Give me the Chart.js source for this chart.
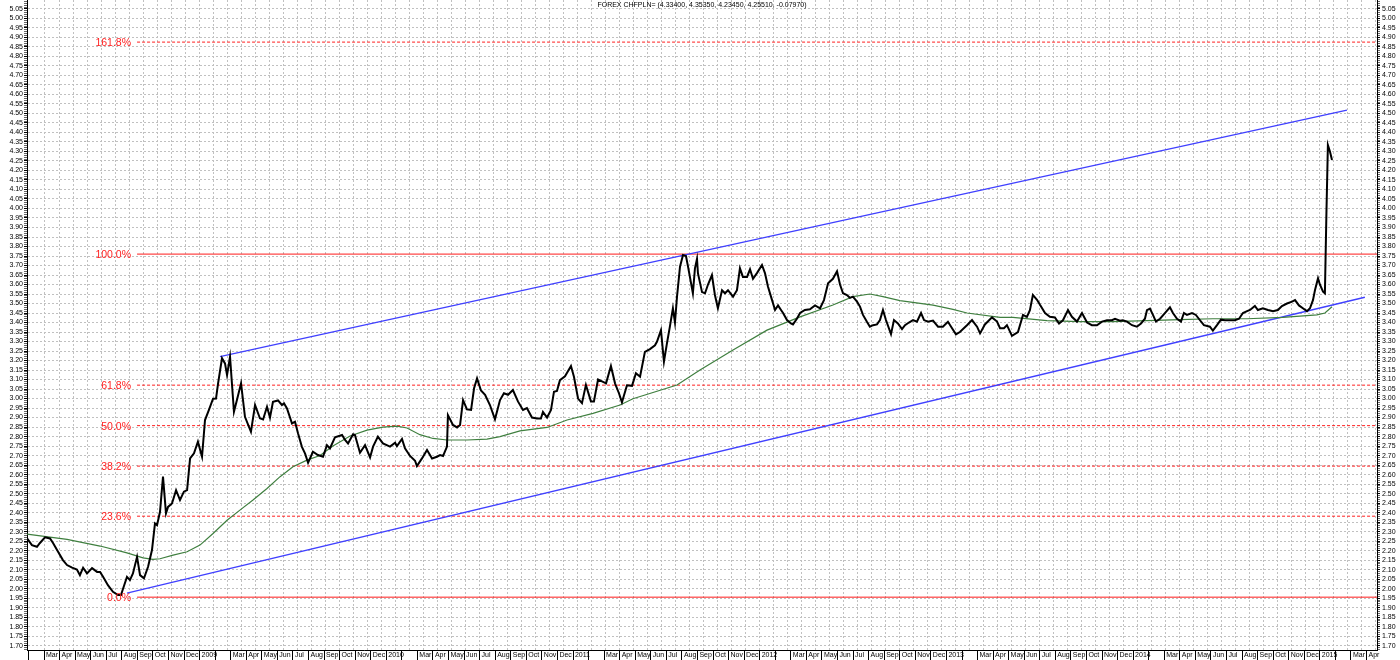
<!DOCTYPE html>
<html>
<head>
<meta charset="utf-8">
<title>FOREX CHFPLN=</title>
<script src="https://cdn.jsdelivr.net/npm/chart.js@4/dist/chart.umd.min.js"></script>
<style>
  html, body { margin: 0; padding: 0; background: #fff; }
  #wrap { width: 1400px; height: 660px; position: relative; }
</style>
</head>
<body>
<div id="wrap"><canvas id="fxChart"></canvas></div>
<script>
// Title of the chart: last bar (open, high, low, close, change)
const chartTitle = 'FOREX CHFPLN= (4.33400, 4.35350, 4.23450, 4.25510, -0.07970)';

// Weekly closes, dates as fractional years
const closeDates = [
  2008.076, 2008.102, 2008.129, 2008.145, 2008.172, 2008.199, 2008.215, 2008.242, 2008.268, 2008.290,
  2008.317, 2008.343, 2008.359, 2008.376, 2008.397, 2008.424, 2008.451, 2008.467, 2008.483, 2008.509,
  2008.536, 2008.563, 2008.579, 2008.590, 2008.611, 2008.627, 2008.643, 2008.665, 2008.681, 2008.702,
  2008.724, 2008.745, 2008.761, 2008.772, 2008.788, 2008.804, 2008.820, 2008.831, 2008.852, 2008.874,
  2008.895, 2008.916, 2008.933, 2008.949, 2008.970, 2008.991, 2009.013, 2009.029, 2009.050, 2009.072,
  2009.088, 2009.099, 2009.120, 2009.136, 2009.147, 2009.163, 2009.184, 2009.200, 2009.222, 2009.243,
  2009.275, 2009.297, 2009.323, 2009.340, 2009.361, 2009.377, 2009.393, 2009.420, 2009.441, 2009.452,
  2009.468, 2009.495, 2009.511, 2009.527, 2009.548, 2009.565, 2009.581, 2009.607, 2009.634, 2009.661,
  2009.682, 2009.698, 2009.725, 2009.763, 2009.779, 2009.795, 2009.822, 2009.832, 2009.859, 2009.886,
  2009.913, 2009.929, 2009.955, 2009.982, 2010.020, 2010.047, 2010.057, 2010.084, 2010.100, 2010.127,
  2010.154, 2010.164, 2010.191, 2010.218, 2010.245, 2010.271, 2010.288, 2010.304, 2010.325, 2010.330,
  2010.357, 2010.379, 2010.395, 2010.411, 2010.432, 2010.454, 2010.470, 2010.486, 2010.507, 2010.529,
  2010.555, 2010.582, 2010.609, 2010.630, 2010.652, 2010.678, 2010.705, 2010.732, 2010.753, 2010.780,
  2010.807, 2010.828, 2010.839, 2010.861, 2010.882, 2010.898, 2010.914, 2010.930, 2010.957, 2010.989,
  2011.005, 2011.027, 2011.048, 2011.069, 2011.096, 2011.112, 2011.134, 2011.155, 2011.177, 2011.203,
  2011.225, 2011.246, 2011.262, 2011.289, 2011.316, 2011.337, 2011.359, 2011.385, 2011.412, 2011.439,
  2011.450, 2011.471, 2011.487, 2011.503, 2011.519, 2011.535, 2011.546, 2011.557, 2011.573, 2011.589,
  2011.605, 2011.616, 2011.642, 2011.653, 2011.664, 2011.669, 2011.691, 2011.707, 2011.723, 2011.744,
  2011.760, 2011.776, 2011.798, 2011.814, 2011.830, 2011.857, 2011.878, 2011.894, 2011.910, 2011.932,
  2011.948, 2011.964, 2011.985, 2012.012, 2012.028, 2012.044, 2012.066, 2012.082, 2012.098, 2012.114,
  2012.125, 2012.146, 2012.167, 2012.178, 2012.199, 2012.216, 2012.242, 2012.269, 2012.296, 2012.323,
  2012.344, 2012.366, 2012.392, 2012.414, 2012.430, 2012.446, 2012.467, 2012.483, 2012.499, 2012.521,
  2012.537, 2012.553, 2012.574, 2012.590, 2012.607, 2012.628, 2012.644, 2012.660, 2012.676, 2012.703,
  2012.719, 2012.740, 2012.762, 2012.778, 2012.799, 2012.821, 2012.842, 2012.864, 2012.880, 2012.901,
  2012.928, 2012.955, 2012.981, 2013.008, 2013.030, 2013.051, 2013.072, 2013.110, 2013.137, 2013.164,
  2013.180, 2013.206, 2013.244, 2013.271, 2013.287, 2013.308, 2013.324, 2013.351, 2013.383, 2013.410,
  2013.431, 2013.447, 2013.463, 2013.485, 2013.501, 2013.528, 2013.554, 2013.581, 2013.603, 2013.624,
  2013.651, 2013.672, 2013.699, 2013.726, 2013.753, 2013.779, 2013.806, 2013.833, 2013.860, 2013.886,
  2013.903, 2013.929, 2013.945, 2013.967, 2013.994, 2014.020, 2014.042, 2014.063, 2014.074, 2014.090,
  2014.106, 2014.122, 2014.144, 2014.170, 2014.197, 2014.213, 2014.235, 2014.256, 2014.272, 2014.288,
  2014.315, 2014.336, 2014.358, 2014.379, 2014.411, 2014.427, 2014.449, 2014.470, 2014.492, 2014.518,
  2014.545, 2014.567, 2014.588, 2014.610, 2014.626, 2014.652, 2014.668, 2014.695, 2014.722, 2014.749,
  2014.775, 2014.797, 2014.824, 2014.851, 2014.867, 2014.888, 2014.909, 2014.931, 2014.947, 2014.963,
  2014.974, 2014.990, 2015.000, 2015.017, 2015.027, 2015.035, 2015.043, 2015.054, 2015.065
];
const closeValues = [
  2.264, 2.229, 2.220, 2.240, 2.270, 2.264, 2.240, 2.194, 2.150, 2.124,
  2.110, 2.100, 2.071, 2.110, 2.080, 2.108, 2.088, 2.088, 2.062, 2.018,
  1.983, 1.966, 1.966, 1.999, 2.062, 2.045, 2.080, 2.167, 2.071, 2.054,
  2.115, 2.203, 2.343, 2.334, 2.404, 2.589, 2.396, 2.430, 2.448, 2.518,
  2.466, 2.510, 2.518, 2.685, 2.712, 2.773, 2.694, 2.887, 2.940, 2.999,
  3.000, 3.080, 3.212, 3.185, 3.124, 3.220, 2.930, 2.992, 3.080, 2.904,
  2.825, 2.966, 2.896, 2.890, 2.957, 2.900, 2.983, 2.990, 2.966, 2.975,
  2.948, 2.869, 2.878, 2.817, 2.746, 2.710, 2.662, 2.720, 2.703, 2.694,
  2.755, 2.738, 2.796, 2.808, 2.782, 2.764, 2.812, 2.808, 2.715, 2.755,
  2.690, 2.747, 2.800, 2.764, 2.747, 2.768, 2.750, 2.787, 2.738, 2.698,
  2.673, 2.645, 2.685, 2.729, 2.685, 2.694, 2.703, 2.698, 2.747, 2.913,
  2.861, 2.848, 2.861, 2.992, 2.943, 2.940, 3.054, 3.106, 3.042, 3.020,
  2.966, 2.891, 2.992, 3.028, 3.020, 3.045, 2.985, 2.940, 2.950, 2.900,
  2.895, 2.895, 2.930, 2.900, 2.940, 3.036, 3.040, 3.097, 3.117, 3.171,
  3.115, 3.000, 2.976, 3.072, 2.985, 2.985, 3.100, 3.090, 3.080, 3.171,
  3.080, 3.028, 2.980, 3.070, 3.067, 3.133, 3.115, 3.246, 3.260, 3.280,
  3.300, 3.360, 3.194, 3.290, 3.380, 3.475, 3.400, 3.536, 3.694, 3.755,
  3.750, 3.694, 3.554, 3.685, 3.735, 3.660, 3.560, 3.554, 3.600, 3.650,
  3.545, 3.475, 3.570, 3.554, 3.570, 3.536, 3.570, 3.685, 3.640, 3.640,
  3.680, 3.630, 3.660, 3.703, 3.660, 3.590, 3.518, 3.466, 3.490, 3.466,
  3.450, 3.413, 3.395, 3.390, 3.420, 3.450, 3.466, 3.470, 3.490, 3.475,
  3.518, 3.606, 3.630, 3.670, 3.600, 3.554, 3.545, 3.530, 3.536, 3.510,
  3.484, 3.440, 3.404, 3.378, 3.386, 3.390, 3.413, 3.466, 3.413, 3.339,
  3.413, 3.395, 3.365, 3.386, 3.400, 3.413, 3.404, 3.450, 3.413, 3.404,
  3.410, 3.378, 3.378, 3.404, 3.370, 3.338, 3.350, 3.386, 3.413, 3.378,
  3.343, 3.390, 3.427, 3.405, 3.370, 3.370, 3.386, 3.330, 3.350, 3.440,
  3.430, 3.465, 3.545, 3.520, 3.493, 3.450, 3.430, 3.427, 3.395, 3.412,
  3.465, 3.430, 3.405, 3.450, 3.400, 3.386, 3.386, 3.405, 3.412, 3.412,
  3.420, 3.410, 3.412, 3.405, 3.386, 3.378, 3.395, 3.420, 3.465, 3.473,
  3.440, 3.405, 3.420, 3.450, 3.480, 3.450, 3.420, 3.405, 3.450, 3.440,
  3.450, 3.440, 3.412, 3.386, 3.378, 3.357, 3.386, 3.415, 3.412, 3.412,
  3.412, 3.420, 3.450, 3.460, 3.466, 3.487, 3.466, 3.475, 3.466, 3.460,
  3.466, 3.487, 3.500, 3.510, 3.518, 3.490, 3.475, 3.460, 3.475, 3.518,
  3.571, 3.633, 3.600, 3.563, 3.554, 3.970, 4.334, 4.300, 4.255
];

// Moving average (green)
const maDates = [
  2008.076, 2008.290, 2008.467, 2008.611, 2008.697, 2008.750, 2008.788, 2008.858, 2008.933, 2009.002,
  2009.072, 2009.147, 2009.216, 2009.286, 2009.361, 2009.431, 2009.500, 2009.575, 2009.645, 2009.714,
  2009.806, 2009.897, 2009.982, 2010.057, 2010.111, 2010.180, 2010.250, 2010.325, 2010.432, 2010.539,
  2010.609, 2010.716, 2010.861, 2010.968, 2011.107, 2011.252, 2011.321, 2011.557, 2011.680, 2011.857,
  2012.039, 2012.216, 2012.392, 2012.499, 2012.590, 2012.660, 2012.751, 2012.928, 2013.035, 2013.110,
  2013.287, 2013.356, 2013.538, 2013.715, 2013.892, 2014.074, 2014.251, 2014.427, 2014.610, 2014.802,
  2014.984, 2015.027, 2015.065
];
const maValues = [
  2.287, 2.259, 2.224, 2.188, 2.162, 2.154, 2.157, 2.176, 2.194, 2.229,
  2.290, 2.360, 2.413, 2.466, 2.527, 2.589, 2.641, 2.676, 2.700, 2.750,
  2.803, 2.834, 2.850, 2.855, 2.845, 2.810, 2.790, 2.782, 2.782, 2.787,
  2.800, 2.830, 2.848, 2.887, 2.922, 2.966, 2.999, 3.071, 3.150, 3.255,
  3.360, 3.430, 3.492, 3.536, 3.550, 3.536, 3.515, 3.492, 3.469, 3.450,
  3.427, 3.427, 3.410, 3.405, 3.405, 3.410, 3.415, 3.420, 3.420, 3.427,
  3.440, 3.450, 3.483
];

// Trend channel (blue)
const upperTrendDates = [2009.109, 2015.145];
const upperTrendValues = [3.220, 4.518];
const lowerTrendDates = [2008.611, 2015.241];
const lowerTrendValues = [1.976, 3.533];

// Fibonacci retracement
const fibLow = 1.955;
const fibHigh = 3.760;
const fibRatios = [0, 0.236, 0.382, 0.5, 0.618, 1, 1.618];
const fibLabels = ['0.0%', '23.6%', '38.2%', '50.0%', '61.8%', '100.0%', '161.8%'];
const fibStart = 2008.665;

// Axis ranges and labels
const xMin = 2008.0756;
const xMax = 2015.306;
const yMin = 1.677;
const yMax = 5.097;
const monthLabels = ['', '', 'Mar', 'Apr', 'May', 'Jun', 'Jul', 'Aug', 'Sep', 'Oct', 'Nov', 'Dec'];
const gridStep = 0.075;

const FONT = '"Liberation Sans", Arial, sans-serif';

// month ticks: January shows the year
const monthTicks = [];
for (let yr = 2008; yr <= 2015; yr++) {
  for (let m = 0; m < 12; m++) {
    const v = yr + m / 12;
    if (v < xMin || v > xMax) continue;
    monthTicks.push({ value: v, label: m === 0 ? String(yr) : monthLabels[m] });
  }
}

// price ticks every 0.01, labels every 0.05
const priceTicks = [];
for (let i = Math.ceil(yMin * 100); i <= Math.floor(yMax * 100); i++) priceTicks.push({ value: i / 100 });
const isMajor = v => Math.round(v * 100) % 5 === 0;

const gridTicks = [];
for (let v = 2008.172; v < xMax; v += gridStep) gridTicks.push({ value: v });

const toPoints = (xs, ys) => xs.map((x, i) => ({ x: x, y: ys[i] }));

// Fibonacci datasets
const fibSets = fibRatios.map((r, i) => {
  const v = fibLow + r * (fibHigh - fibLow);
  const solid = r === 0 || r === 1;
  return {
    label: fibLabels[i],
    data: [{ x: fibStart, y: v }, { x: xMax, y: v }],
    borderColor: solid ? '#ff1a1a' : '#ff1f1f',
    borderWidth: 1,
    borderDash: solid ? [] : [3, 2],
    pointRadius: 0
  };
});

const annotate = {
  id: 'annotate',
  afterDatasetsDraw(chart) {
    const { ctx, scales: { x, y }, chartArea } = chart;
    ctx.save();
    ctx.font = '10.5px ' + FONT;
    ctx.fillStyle = '#ff2020';
    ctx.textAlign = 'right';
    ctx.textBaseline = 'middle';
    fibRatios.forEach((r, i) => {
      const v = fibLow + r * (fibHigh - fibLow);
      ctx.fillText(fibLabels[i], x.getPixelForValue(fibStart) - 6, y.getPixelForValue(v) + 1);
    });
    ctx.font = '7px ' + FONT;
    ctx.fillStyle = '#000';
    ctx.textAlign = 'center';
    ctx.textBaseline = 'top';
    ctx.fillText(chartTitle, (chartArea.left + chartArea.right) / 2, 2);
    ctx.restore();
  }
};

const priceAxis = (position, width, padding, onArea) => ({
  type: 'linear',
  position: position,
  min: yMin,
  max: yMax,
  afterBuildTicks: s => { s.ticks = priceTicks.map(t => ({ value: t.value })); },
  afterFit: s => { s.width = width; s.paddingTop = 0; s.paddingBottom = 0; },
  grid: {
    drawOnChartArea: onArea,
    drawTicks: true,
    tickLength: 3,
    color: c => (c.tick && isMajor(c.tick.value)) ? '#c0c0c0' : 'rgba(0,0,0,0)',
    tickColor: c => (c.tick && isMajor(c.tick.value)) ? '#000' : '#666'
  },
  border: { display: true, color: '#000', dash: [2, 2] },
  ticks: {
    autoSkip: false,
    padding: padding,
    color: '#000',
    font: { family: FONT, size: 7 },
    callback: v => isMajor(v) ? v.toFixed(2) : ''
  }
});

const ctx = document.getElementById('fxChart').getContext('2d');
new Chart(ctx, {
  type: 'line',
  data: {
    datasets: [
      {
        label: 'CHFPLN',
        data: toPoints(closeDates, closeValues),
        borderColor: '#000',
        borderWidth: 2,
        pointRadius: 0
      },
      {
        label: 'MA',
        data: toPoints(maDates, maValues),
        borderColor: '#3f7f3f',
        borderWidth: 1.2,
        pointRadius: 0
      },
      {
        label: 'upper',
        data: toPoints(upperTrendDates, upperTrendValues),
        borderColor: '#4040ff',
        borderWidth: 1.3,
        pointRadius: 0
      },
      {
        label: 'lower',
        data: toPoints(lowerTrendDates, lowerTrendValues),
        borderColor: '#4040ff',
        borderWidth: 1.3,
        pointRadius: 0
      },
      ...fibSets
    ]
  },
  options: {
    responsive: true,
    maintainAspectRatio: false,
    animation: false,
    layout: { padding: 0 },
    elements: { line: { tension: 0 } },
    plugins: {
      legend: { display: false },
      tooltip: { enabled: false },
      title: { display: false }
    },
    scales: {
      x: {
        type: 'linear',
        position: 'bottom',
        min: xMin,
        max: xMax,
        afterBuildTicks: s => { s.ticks = monthTicks.map(t => ({ value: t.value })); },
        afterFit: s => { s.height = 10; s.paddingLeft = 0; s.paddingRight = 0; },
        grid: { drawOnChartArea: false, drawTicks: true, tickLength: 10, color: '#000', tickColor: '#000' },
        border: { display: true, color: '#000' },
        ticks: {
          autoSkip: false,
          maxRotation: 0,
          minRotation: 0,
          align: 'start',
          padding: -9,
          color: '#000',
          font: { family: FONT, size: 7 },
          callback: (v, i) => ' ' + monthTicks[i].label
        }
      },
      xg: {
        type: 'linear',
        position: 'top',
        min: xMin,
        max: xMax,
        afterBuildTicks: s => { s.ticks = gridTicks.map(t => ({ value: t.value })); },
        afterFit: s => { s.height = 0; s.paddingLeft = 0; s.paddingRight = 0; },
        grid: { drawOnChartArea: true, drawTicks: false, color: '#c0c0c0' },
        border: { display: false, dash: [2, 2] },
        ticks: { display: false }
      },
      y: priceAxis('left', 27, 1, true),
      y2: priceAxis('right', 23, 2, false)
    }
  },
  plugins: [annotate]
});
</script>
</body>
</html>
